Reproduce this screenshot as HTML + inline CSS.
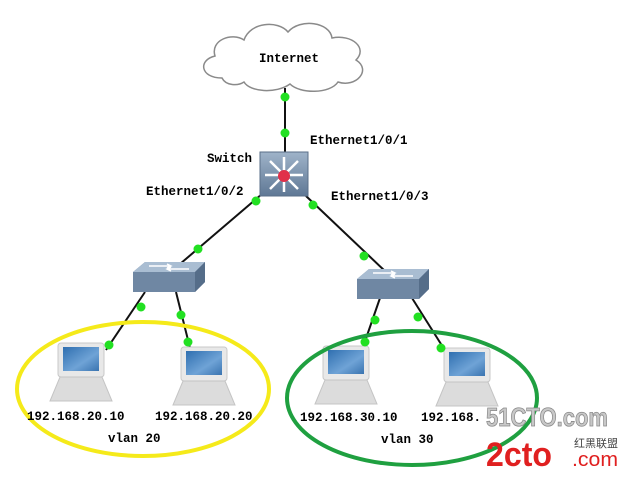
<!DOCTYPE html>
<html><head><meta charset="utf-8"><style>
html,body{margin:0;padding:0;background:#fff;}
text{font-family:"Liberation Mono",monospace;font-weight:bold;font-size:12.5px;fill:#000;}
</style></head><body>
<svg width="622" height="478" viewBox="0 0 622 478" xmlns="http://www.w3.org/2000/svg">
<defs>
<linearGradient id="scr" x1="0" y1="0" x2="1" y2="1"><stop offset="0" stop-color="#2f6fb0"/><stop offset="0.6" stop-color="#6fa3d6"/><stop offset="1" stop-color="#3a74b0"/></linearGradient>
<linearGradient id="sw" x1="0" y1="0" x2="0" y2="1"><stop offset="0" stop-color="#9fb3c9"/><stop offset="1" stop-color="#5f7895"/></linearGradient>
<g id="pc">
<rect x="0" y="0" width="46" height="34" rx="3" fill="#e8e8e8" stroke="#c8c8c8"/>
<rect x="5" y="4" width="36" height="24" fill="url(#scr)"/>
<path d="M2 34 L44 34 L54 58 L-8 58 Z" fill="#dcdcdc" stroke="#c4c4c4"/>
</g>
<g id="l2">
<path d="M0 10 L12 0 L72 0 L72 20 L62 30 L0 30 Z" fill="#6f87a3"/>
<path d="M0 10 L12 0 L72 0 L62 10 Z" fill="#a9bdd2"/>
<path d="M62 10 L72 0 L72 20 L62 30 Z" fill="#556d89"/>
<path d="M16 4 h22 M34 2 l4 2 l-4 2 M56 7 h-22 M38 5 l-4 2 l4 2" stroke="#fff" stroke-width="1.5" fill="none"/>
</g>
</defs>
<path d="M222 78 C200 78 198 60 215 56 C210 40 232 32 244 40 C250 22 278 20 288 32 C300 18 330 22 332 38 C352 34 368 48 356 60 C372 70 356 88 338 82 C330 94 300 94 290 84 C276 94 250 92 244 82 C238 86 226 86 222 78 Z" fill="#fff" stroke="#8a8a8a" stroke-width="1.5"/>
<text x="259" y="62">Internet</text>
<g stroke="#111" stroke-width="2" fill="none">
<line x1="285" y1="88" x2="285" y2="152"/>
<line x1="262" y1="194" x2="180" y2="264"/>
<line x1="306" y1="196" x2="386" y2="272"/>
<line x1="145" y1="292" x2="106" y2="350"/>
<line x1="176" y1="292" x2="190" y2="348"/>
<line x1="380" y1="298" x2="362" y2="350"/>
<line x1="412" y1="298" x2="446" y2="352"/>
</g>
<rect x="260" y="152" width="48" height="44" fill="url(#sw)" stroke="#5a6f88"/>
<g stroke="#fff" stroke-width="2.5">
<line x1="284" y1="157" x2="284" y2="192"/><line x1="265" y1="175" x2="303" y2="175"/>
<line x1="270" y1="161" x2="298" y2="189"/><line x1="298" y1="161" x2="270" y2="189"/>
</g>
<circle cx="284" cy="176" r="6" fill="#e0304a"/>
<use href="#l2" x="133" y="262"/>
<use href="#l2" x="357" y="269"/>
<use href="#pc" x="58" y="343"/>
<use href="#pc" x="181" y="347"/>
<use href="#pc" x="323" y="346"/>
<use href="#pc" x="444" y="348"/>
<g fill="#22e022">
<circle cx="285" cy="97" r="4.5"/><circle cx="285" cy="133" r="4.5"/>
<circle cx="256" cy="201" r="4.5"/><circle cx="313" cy="205" r="4.5"/>
<circle cx="198" cy="249" r="4.5"/><circle cx="364" cy="256" r="4.5"/>
<circle cx="141" cy="307" r="4.5"/><circle cx="181" cy="315" r="4.5"/>
<circle cx="109" cy="345" r="4.5"/><circle cx="188" cy="342" r="4.5"/>
<circle cx="375" cy="320" r="4.5"/><circle cx="418" cy="317" r="4.5"/>
<circle cx="365" cy="342" r="4.5"/><circle cx="441" cy="348" r="4.5"/>
</g>
<ellipse cx="143" cy="389" rx="126" ry="67" fill="none" stroke="#f5ea1a" stroke-width="4"/>
<ellipse cx="412" cy="398" rx="125" ry="67" fill="none" stroke="#1fa040" stroke-width="4"/>
<text x="310" y="144">Ethernet1/0/1</text>
<text x="207" y="162">Switch</text>
<text x="146" y="195">Ethernet1/0/2</text>
<text x="331" y="200">Ethernet1/0/3</text>
<text x="27" y="420">192.168.20.10</text>
<text x="155" y="420">192.168.20.20</text>
<text x="108" y="442">vlan 20</text>
<text x="300" y="421">192.168.30.10</text>
<text x="421" y="421">192.168.</text>
<text x="381" y="443">vlan 30</text>
<text x="486" y="426" textLength="122" lengthAdjust="spacingAndGlyphs" style="font-family:'Liberation Sans',sans-serif;font-size:26px;fill:#c8c8c8;stroke:#888;stroke-width:0.8">51CTO.com</text>
<text x="486" y="466" textLength="66" lengthAdjust="spacingAndGlyphs" style="font-family:'Liberation Sans',sans-serif;font-size:34px;fill:#e02020">2cto</text>
<text x="572" y="466" textLength="46" lengthAdjust="spacingAndGlyphs" style="font-family:'Liberation Sans',sans-serif;font-size:20px;font-weight:normal;fill:#e02020">.com</text>
<text x="574" y="447" textLength="44" lengthAdjust="spacingAndGlyphs" style="font-family:'Liberation Sans','Noto Sans CJK SC',sans-serif;font-size:11px;font-weight:normal;fill:#444">红黑联盟</text>
</svg>
</body></html>
